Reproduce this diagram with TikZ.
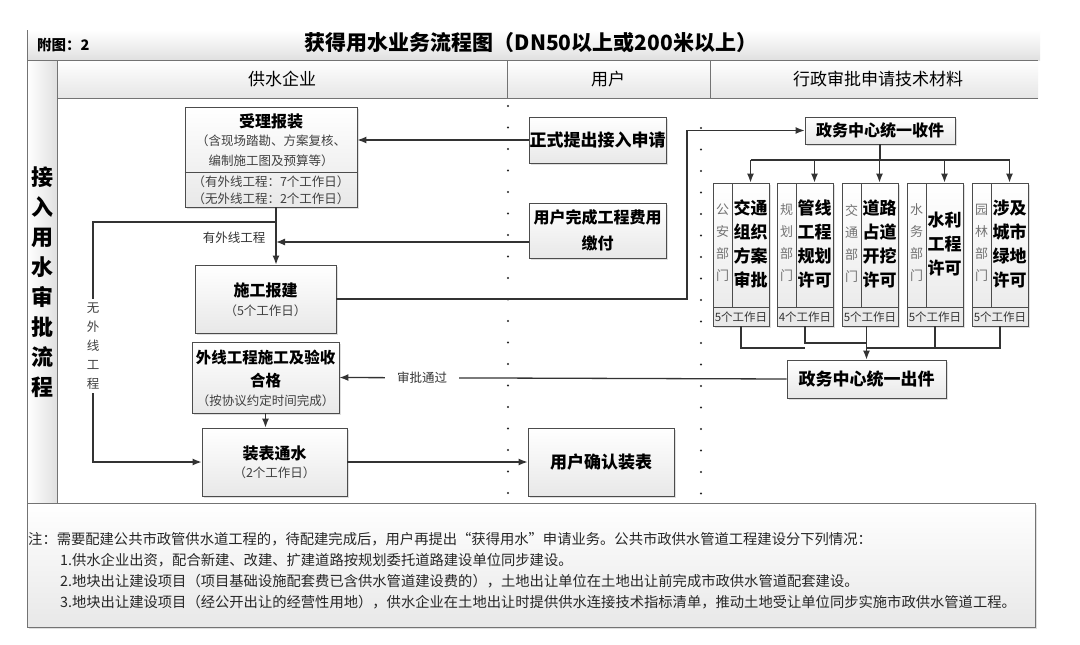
\documentclass[tikz,border=0pt]{standalone}
\usepackage{fontspec}
\setmainfont{Noto Sans CJK SC}
\usetikzlibrary{arrows.meta,shadows}
\newcommand\myfs[2]{\fontsize{#1}{#2}\selectfont}
\begin{document}
\begin{tikzpicture}[x=1pt,y=-1pt,
 box/.style={draw=black!70,line width=0.9pt,top color=white,bottom color=black!9,inner sep=0pt,
   drop shadow={opacity=0.25,shadow xshift=1.5pt,shadow yshift=-1.5pt}},
 txt/.style={inner sep=0pt,align=center,text=black},
 sub/.style={txt,text=black!75,font=\myfs{12.5}{16}},
 bigt/.style={txt,font=\bfseries\myfs{16}{22}},
 conn/.style={draw=black!80,line width=1.3pt},
 arr/.style={conn,-{Latex[length=9pt,width=7pt]}},
 thinl/.style={draw=black!70,line width=0.8pt},
 dotl/.style={draw=black!85,line width=2.3pt,line cap=round,dash pattern=on 0pt off 21.5pt},
 frame/.style={draw=black!55,line width=1pt},
 note/.style={inner sep=0pt,anchor=west,text=black!85,font=\myfs{14.3}{18}}]
\useasboundingbox (0,0) rectangle (1080,645);
\fill[white] (0,0) rectangle (1080,645);

% ---------- frame ----------
\shade[top color=white,bottom color=black!12] (27,30) rectangle (1040,60);
\shade[top color=white,bottom color=black!10] (57,60) rectangle (1038,98);
\shade[left color=white,right color=black!12] (27,60) rectangle (57,503);
\draw[frame] (27,30) -- (27,503);
\draw[frame] (27,60) -- (1038,60);
\draw[frame] (57,98) -- (1038,98);
\draw[frame] (57,60) -- (57,503);
\draw[frame] (507,60) -- (507,98);
\draw[frame] (710,60) -- (710,98);
\draw[frame] (27,503) -- (1035,503);

\node[txt,anchor=west,font=\bfseries\myfs{14.5}{16}] (fig) at (37,45) {附图：2};
\node[txt,font=\bfseries\myfs{21}{24}] (title) at (531,43) {获得用水业务流程图（DN50以上或200米以上）};
\node[txt,font=\myfs{17}{20}] (h1) at (282,79) {供水企业};
\node[txt,font=\myfs{17}{20}] (h2) at (608,79) {用户};
\node[txt,font=\myfs{17}{20}] (h3) at (878,79) {行政审批申请技术材料};
\node[txt,font=\bfseries\myfs{22}{30}] (lab) at (42,282) {接\\入\\用\\水\\审\\批\\流\\程};

% ---------- dotted separators ----------
\coordinate (d1a) at (508,106); \coordinate (d1b) at (508,500);
\coordinate (d2a) at (701,128); \coordinate (d2b) at (701,500);
\draw[dotl] (d1a) -- (d1b);
\draw[dotl] (d2a) -- (d2b);

% ---------- water company column ----------
\node[box,minimum width=172,minimum height=100] (sl) at (271,157) {};
\draw[thinl] (sl.west |- 0,172) -- (sl.east |- 0,172);
\node[txt,font=\bfseries\myfs{16}{20}] (sl-a) at (271,121) {受理报装};
\node[sub] (sl-b) at (271,141) {（含现场踏勘、方案复核、};
\node[sub] (sl-c) at (271,161) {编制施工图及预算等）};
\node[sub] (sl-d) at (271,182) {（有外线工程：7个工作日）};
\node[sub] (sl-e) at (271,199) {（无外线工程：2个工作日）};

\node[box,minimum width=141,minimum height=68] (sg) at (265.5,299) {};
\node[bigt] (sg-a) at (265.5,290) {施工报建};
\node[sub] (sg-b) at (265.5,311) {（5个工作日）};

\node[box,minimum width=147,minimum height=71] (wx) at (265.5,377.5) {};
\node[txt,font=\bfseries\myfs{15.5}{23}] (wx-a) at (265.5,368.5) {外线工程施工及验收\\合格};
\node[sub] (wx-b) at (265.5,401) {（按协议约定时间完成）};

\node[box,minimum width=145,minimum height=68] (zb) at (274.5,462) {};
\node[bigt] (zb-a) at (274.5,453) {装表通水};
\node[sub] (zb-b) at (274.5,473) {（2个工作日）};

% ---------- user column ----------
\node[box,minimum width=137,minimum height=46,font=\bfseries\myfs{17}{20}] (zs) at (597.5,140) {正式提出接入申请};
\node[box,minimum width=137,minimum height=55,align=center,font=\bfseries\myfs{16}{26}] (uf) at (597.5,230.5) {用户完成工程费用\\缴付};
\node[box,minimum width=146,minimum height=68,font=\bfseries\myfs{17}{20}] (ur) at (601,462) {用户确认装表};

% ---------- administration column ----------
\node[box,minimum width=150,minimum height=27,font=\bfseries\myfs{16}{20}] (sj) at (880,130.5) {政务中心统一收件};
\node[box,minimum width=159,minimum height=38,font=\bfseries\myfs{17}{20}] (co) at (866.5,379) {政务中心统一出件};

\foreach \n/\cx/\dept/\perm/\dd in {
  p1/741/{公\\安\\部\\门}/{交通\\组织\\方案\\审批}/5,
  p2/805/{规\\划\\部\\门}/{管线\\工程\\规划\\许可}/4,
  p3/870/{交\\通\\部\\门}/{道路\\占道\\开挖\\许可}/5,
  p4/935/{水\\务\\部\\门}/{水利\\工程\\许可}/5,
  p5/1000/{园\\林\\部\\门}/{涉及\\城市\\绿地\\许可}/5}{
  \node[box,minimum width=56,minimum height=143] (\n) at (\cx,254.5) {};
  \draw[thinl] (\cx-9,183) -- (\cx-9,307);
  \draw[thinl] (\cx-28,307) -- (\cx+28,307);
  \node[txt,text=black!55,font=\myfs{13}{22}] (\n-d) at (\cx-18.5,243) {\dept};
  \node[txt,font=\bfseries\myfs{17}{24}] (\n-p) at (\cx+9.5,244) {\perm};
  \node[txt,text=black!80,font=\myfs{11.5}{14}] (\n-t) at (\cx,317) {\dd 个工作日};
  \coordinate (\n-a) at (\cx+9.5,160);
}

% ---------- connectors ----------
\draw[arr] (zs.west) -- (zs.west -| sl.east);
\coordinate (j1) at (276,222);
\coordinate (j2) at (276,242);
\coordinate (j4) at (93,462);
\draw[arr] (j1 |- sl.south) -- (j1 |- sg.north);
\draw[arr] (uf.west |- j2) -- (j2);
\node[txt,text=black!80,font=\myfs{12.5}{16}] (yw) at (234,238) {有外线工程};
\draw[arr] (j1) -| (j4) -- (zb.west);
\node[txt,fill=white,inner ysep=4pt,inner xsep=2pt,text=black!75,font=\myfs{12.5}{19}] (ww) at (93,346) {无\\外\\线\\工\\程};

\coordinate (k1) at (687,299);
\draw[arr] (sg.east) -- (k1) |- (sj.west);
\coordinate (bus) at (880,160);
\draw[conn] (sj.south) -- (bus);
\draw[conn] (p1-a) -- (p5-a);
\foreach \n in {p1,p2,p3,p4,p5}{
  \draw[arr] (\n-a) -- (\n-a |- \n.north);
}
\coordinate (m1) at (805,348);
\coordinate (m2) at (866,343);
\coordinate (m3) at (866,348);
\draw[conn] (p1.south) |- (m1);
\draw[conn] (p2.south) |- (m2);
\draw[conn] (p4.south) |- (m3);
\draw[conn] (p5.south) |- (m3);
\draw[arr] (co.north |- p3.south) -- (co.north);

\draw[arr] (co.west) -- node[pos=0.815,fill=white,inner xsep=12pt,inner ysep=2pt,text=black!80,font=\myfs{12.5}{16}] (sp) {审批通过} (wx.east);
\draw[arr] (wx.south) -- (wx.south |- zb.north);
\draw[arr] (zb.east) -- (ur.west);

% ---------- note ----------
\node[box,draw=black!55,minimum width=1008,minimum height=124] (fn) at (531,565) {};
\node[note] (n0) at (28,539) {注：需要配建公共市政管供水道工程的，待配建完成后，用户再提出“获得用水”申请业务。公共市政供水管道工程建设分下列情况：};
\node[note] (n1) at (60,560) {1.供水企业出资，配合新建、改建、扩建道路按规划委托道路建设单位同步建设。};
\node[note] (n2) at (60,581) {2.地块出让建设项目（项目基础设施配套费已含供水管道建设费的），土地出让单位在土地出让前完成市政供水管道配套建设。};
\node[note] (n3) at (60,602) {3.地块出让建设项目（经公开出让的经营性用地），供水企业在土地出让时提供供水连接技术指标清单，推动土地受让单位同步实施市政供水管道工程。};
\end{tikzpicture}
\end{document}
